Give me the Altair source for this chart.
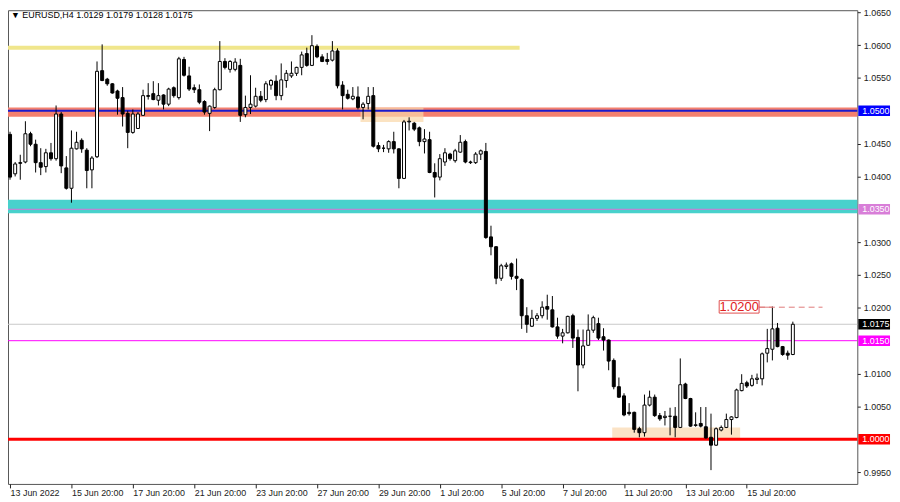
import altair as alt
import pandas as pd

# ---------------- data (EURUSD H4) ----------------
opens = [1.0464,1.0404,1.0421,1.0422,1.0465,1.0449,1.0421,1.0415,1.0436,1.0427,
         1.0495,1.0413,1.0382,1.0442,1.0455,1.0440,1.0410,1.0430,1.0561,1.0548,
         1.0541,1.0530,1.0520,1.0496,1.0467,1.0473,1.0493,1.0523,1.0526,1.0516,
         1.0524,1.0510,1.0535,1.0520,1.0578,1.0553,1.0535,1.0532,1.0514,1.0496,
         1.0505,1.0532,1.0575,1.0563,1.0563,1.0569,1.0494,1.0505,1.0507,1.0522,
         1.0517,1.0539,1.0545,1.0523,1.0546,1.0553,1.0557,1.0566,1.0587,1.0569,
         1.0598,1.0582,1.0578,1.0577,1.0591,1.0539,1.0525,1.0518,1.0521,1.0505,
         1.0511,1.0523,1.0447,1.0443,1.0442,1.0453,1.0442,1.0397,1.0483,1.0481,
         1.0474,1.0453,1.0456,1.0406,1.0399,1.0422,1.0434,1.0424,1.0437,1.0453,
         1.0421,1.0421,1.0434,1.0438,1.0308,1.0293,1.0245,1.0263,1.0267,1.0248,
         1.0243,1.0188,1.0172,1.0184,1.0188,1.0202,1.0197,1.0171,1.0157,1.0162,
         1.0188,1.0155,1.0113,1.0143,1.0166,1.0176,1.0156,1.0151,1.0120,1.0080,
         1.0066,1.0041,1.0041,1.0016,1.0010,1.0052,1.0064,1.0036,1.0033,1.0035,
         1.0035,1.0018,1.0084,1.0062,1.0021,1.0024,1.0019,1.0003,0.9991,1.0014,
         1.0018,1.0030,1.0033,1.0074,1.0086,1.0082,1.0091,1.0092,1.0131,1.0137,
         1.0169,1.0141,1.0131,1.0129]
highs = [1.0468,1.0422,1.0433,1.0484,1.0468,1.0456,1.0443,1.0442,1.0451,1.0508,
         1.0498,1.0431,1.0470,1.0468,1.0458,1.0443,1.0431,1.0575,1.0601,1.0550,
         1.0542,1.0532,1.0536,1.0500,1.0502,1.0498,1.0532,1.0542,1.0545,1.0542,
         1.0525,1.0535,1.0537,1.0582,1.0582,1.0567,1.0540,1.0540,1.0516,1.0508,
         1.0535,1.0606,1.0580,1.0577,1.0580,1.0579,1.0523,1.0554,1.0535,1.0530,
         1.0545,1.0548,1.0554,1.0572,1.0562,1.0575,1.0567,1.0590,1.0596,1.0615,
         1.0601,1.0586,1.0588,1.0606,1.0595,1.0545,1.0532,1.0536,1.0537,1.0513,
         1.0536,1.0536,1.0452,1.0448,1.0455,1.0468,1.0443,1.0486,1.0490,1.0483,
         1.0476,1.0472,1.0468,1.0420,1.0434,1.0443,1.0436,1.0442,1.0463,1.0456,
         1.0424,1.0437,1.0441,1.0451,1.0325,1.0294,1.0267,1.0269,1.0269,1.0275,
         1.0245,1.0201,1.0197,1.0192,1.0210,1.0220,1.0218,1.0185,1.0168,1.0188,
         1.0191,1.0167,1.0167,1.0190,1.0188,1.0185,1.0169,1.0152,1.0123,1.0094,
         1.0070,1.0055,1.0042,1.0019,1.0068,1.0074,1.0068,1.0040,1.0043,1.0048,
         1.0049,1.0123,1.0086,1.0063,1.0041,1.0049,1.0049,1.0039,1.0018,1.0021,
         1.0039,1.0035,1.0077,1.0099,1.0089,1.0098,1.0100,1.0132,1.0168,1.0202,
         1.0177,1.0142,1.0135,1.0179]
lows = [1.0395,1.0400,1.0395,1.0420,1.0446,1.0406,1.0402,1.0406,1.0424,1.0424,
        1.0405,1.0380,1.0360,1.0441,1.0436,1.0382,1.0382,1.0428,1.0545,1.0538,
        1.0526,1.0494,1.0476,1.0443,1.0465,1.0473,1.0492,1.0517,1.0516,1.0508,
        1.0502,1.0507,1.0520,1.0517,1.0552,1.0530,1.0527,1.0510,1.0494,1.0469,
        1.0503,1.0531,1.0563,1.0558,1.0560,1.0483,1.0490,1.0495,1.0505,1.0513,
        1.0513,1.0532,1.0516,1.0516,1.0535,1.0550,1.0553,1.0554,1.0567,1.0568,
        1.0580,1.0574,1.0570,1.0575,1.0534,1.0502,1.0517,1.0516,1.0502,1.0487,
        1.0502,1.0444,1.0437,1.0437,1.0436,1.0435,1.0382,1.0396,1.0470,1.0469,
        1.0446,1.0435,1.0405,1.0368,1.0394,1.0416,1.0424,1.0421,1.0436,1.0420,
        1.0419,1.0419,1.0425,1.0305,1.0280,1.0236,1.0241,1.0259,1.0243,1.0227,
        1.0168,1.0162,1.0171,1.0180,1.0184,1.0182,1.0170,1.0153,1.0146,1.0161,
        1.0139,1.0073,1.0108,1.0142,1.0162,1.0151,1.0135,1.0105,1.0076,1.0063,
        1.0035,1.0036,1.0010,1.0003,1.0004,1.0050,1.0034,1.0028,1.0021,1.0006,
        1.0003,1.0017,1.0061,1.0019,1.0019,1.0018,1.0001,0.9953,0.9990,1.0012,
        1.0017,1.0007,1.0032,1.0073,1.0078,1.0080,1.0084,1.0082,1.0117,1.0120,
        1.0140,1.0127,1.0121,1.0128]
closes = [1.0399,1.0419,1.0420,1.0465,1.0449,1.0421,1.0414,1.0436,1.0427,1.0495,
          1.0416,1.0382,1.0443,1.0452,1.0442,1.0409,1.0428,1.0560,1.0546,1.0541,
          1.0527,1.0519,1.0495,1.0467,1.0495,1.0495,1.0523,1.0522,1.0517,1.0523,
          1.0510,1.0533,1.0523,1.0579,1.0554,1.0533,1.0532,1.0513,1.0498,1.0507,
          1.0532,1.0575,1.0566,1.0575,1.0574,1.0493,1.0505,1.0510,1.0522,1.0516,
          1.0541,1.0546,1.0523,1.0547,1.0557,1.0557,1.0566,1.0585,1.0569,1.0599,
          1.0582,1.0575,1.0575,1.0591,1.0538,1.0523,1.0519,1.0522,1.0505,1.0510,
          1.0522,1.0446,1.0442,1.0443,1.0453,1.0442,1.0397,1.0483,1.0484,1.0472,
          1.0453,1.0457,1.0406,1.0399,1.0427,1.0436,1.0427,1.0439,1.0452,1.0422,
          1.0422,1.0434,1.0439,1.0307,1.0293,1.0245,1.0264,1.0265,1.0248,1.0245,
          1.0188,1.0175,1.0184,1.0188,1.0201,1.0198,1.0171,1.0157,1.0162,1.0187,
          1.0154,1.0113,1.0142,1.0166,1.0185,1.0154,1.0151,1.0119,1.0080,1.0064,
          1.0037,1.0039,1.0015,1.0010,1.0052,1.0064,1.0036,1.0031,1.0035,1.0035,
          1.0018,1.0083,1.0062,1.0020,1.0022,1.0020,1.0002,0.9991,1.0016,1.0018,
          1.0030,1.0034,1.0075,1.0085,1.0081,1.0092,1.0093,1.0130,1.0138,1.0168,
          1.0141,1.0129,1.0128,1.0175]

x_label_idx = [0, 12, 24, 36, 48, 60, 72, 84, 96, 108, 120, 132, 144]
x_labels = ["13 Jun 2022", "15 Jun 20:00", "17 Jun 20:00", "21 Jun 20:00",
            "23 Jun 20:00", "27 Jun 20:00", "29 Jun 20:00", "1 Jul 20:00",
            "5 Jul 20:00", "7 Jul 20:00", "11 Jul 20:00", "13 Jul 20:00",
            "15 Jul 20:00"]

price_ticks = [0.9950, 1.0050, 1.0100, 1.0200, 1.0250, 1.0300, 1.0400,
               1.0450, 1.0550, 1.0600, 1.0650]

# horizontal zones
zone_x1 = [-0.4, -0.4, -0.4, 68.5, 117.7]
zone_x2 = [99.6, 165.6, 165.6, 80.8, 142.7]
zone_y1 = [1.0593, 1.0491, 1.03439, 1.0483, 1.0000]
zone_y2 = [1.0599, 1.0505, 1.03646, 1.0505, 1.0018]
zone_col = ["#F0E68C", "#F4806E", "#48D1CC", "#FAD7A8", "#FBE3C6"]
zone_op = [1.0, 1.0, 1.0, 0.7, 1.0]

# level lines
level_price = [1.0175, 1.0150, 1.0500, 1.0350, 1.0000]
level_col = ["#C8C8C8", "#FF00FF", "#1A1ACD", "#DA70D6", "#FF0000"]
level_w = [1, 1, 2, 1, 3]

# price tags on the right axis
tag_price = [1.0500, 1.0350, 1.0175, 1.0150, 1.0000]
tag_text = ["1.0500", "1.0350", "1.0175", "1.0150", "1.0000"]
tag_col = ["#0000FF", "#D87ED8", "#000000", "#FF00FF", "#FF0000"]

W, H = 857, 478
XMIN, XMAX = -0.4, 165.6
YMIN, YMAX = 0.9932, 1.0653
FONT = "Liberation Sans"

# ---------------- frames ----------------
df = pd.DataFrame({"i": list(range(len(opens))), "o": opens, "h": highs,
                   "l": lows, "c": closes})
df["fill"] = ["#FFFFFF" if c >= o else "#000000" for o, c in zip(opens, closes)]

zones = pd.DataFrame({"x1": zone_x1, "x2": zone_x2, "y1": zone_y1, "y2": zone_y2,
                      "col": zone_col, "op": zone_op})
levels = pd.DataFrame({"p": level_price, "col": level_col, "w": level_w,
                       "x1": XMIN, "x2": XMAX})
tags = pd.DataFrame({"p": tag_price, "t": tag_text, "col": tag_col})
tags["lo"] = tags["p"] - 0.0008
tags["hi"] = tags["p"] + 0.0008

xs = alt.Scale(domain=[XMIN, XMAX], nice=False, zero=False, padding=0)
ys = alt.Scale(domain=[YMIN, YMAX], nice=False, zero=False, padding=0)

label_expr = "[" + ",".join("'%s'" % s for s in x_labels) + "][round(datum.value/12)]"

x_axis = alt.Axis(values=x_label_idx, labelExpr=label_expr, title=None, grid=False,
                  domain=False, tickSize=4, tickColor="#222", labelAlign="left",
                  labelPadding=1, labelFontSize=9, labelColor="#222",
                  labelFont=FONT, labelFlush=False, labelOverlap=False)
y_axis = alt.Axis(orient="right", values=price_ticks, format=".4f", title=None,
                  grid=False, domain=False, tickSize=3, tickColor="#222",
                  labelPadding=3, labelFontSize=9, labelColor="#222",
                  labelFont=FONT, labelOverlap=False, labelFlush=False)

zone_layer = alt.Chart(zones).mark_rect().encode(
    x=alt.X("x1:Q", scale=xs, axis=x_axis), x2="x2:Q",
    y=alt.Y("y1:Q", scale=ys, axis=y_axis), y2="y2:Q",
    color=alt.Color("col:N", scale=None), opacity=alt.Opacity("op:Q", scale=None))

level_layer = alt.Chart(levels).mark_rule().encode(
    x=alt.X("x1:Q", scale=xs), x2="x2:Q",
    y=alt.Y("p:Q", scale=ys),
    color=alt.Color("col:N", scale=None),
    strokeWidth=alt.StrokeWidth("w:Q", scale=None))

wicks = alt.Chart(df).mark_rule(color="#000000", strokeWidth=1).encode(
    x=alt.X("i:Q", scale=xs), y=alt.Y("l:Q", scale=ys), y2="h:Q")

bodies = alt.Chart(df).mark_bar(size=3, stroke="#000000", strokeWidth=1).encode(
    x=alt.X("i:Q", scale=xs), y=alt.Y("o:Q", scale=ys), y2="c:Q",
    fill=alt.Fill("fill:N", scale=None))

# 1.0200 annotation
ann = pd.DataFrame({"x1": [138.6], "x2": [146.4], "y1": [1.0192], "y2": [1.0211],
                    "tx": [142.5], "ty": [1.02015], "t": ["1.0200"]})
ann_line = pd.DataFrame({"x1": [146.4], "x2": [158.8], "y": [1.0201]})
ann_solid = pd.DataFrame({"x1": [146.4], "x2": [149.0], "y": [1.0201]})

ann_dash = alt.Chart(ann_line).mark_rule(color="#E07878", strokeWidth=1,
                                         strokeDash=[6, 4]).encode(
    x=alt.X("x1:Q", scale=xs), x2="x2:Q", y=alt.Y("y:Q", scale=ys))
ann_sol = alt.Chart(ann_solid).mark_rule(color="#E07878", strokeWidth=1).encode(
    x=alt.X("x1:Q", scale=xs), x2="x2:Q", y=alt.Y("y:Q", scale=ys))
ann_box = alt.Chart(ann).mark_rect(fill="#FFFFFF", stroke="#E05050",
                                   strokeWidth=1).encode(
    x=alt.X("x1:Q", scale=xs), x2="x2:Q", y=alt.Y("y1:Q", scale=ys), y2="y2:Q")
ann_txt = alt.Chart(ann).mark_text(color="#E02020", fontSize=13, font=FONT,
                                   align="center", baseline="middle").encode(
    x=alt.X("tx:Q", scale=xs), y=alt.Y("ty:Q", scale=ys), text="t:N")

# axis price tags
tag_rect = alt.Chart(tags).mark_rect().encode(
    x=alt.value(W + 1), x2=alt.value(W + 33),
    y=alt.Y("lo:Q", scale=ys), y2="hi:Q",
    color=alt.Color("col:N", scale=None))
tag_txt = alt.Chart(tags).mark_text(color="#FFFFFF", fontSize=9, font=FONT,
                                    align="left", baseline="middle").encode(
    x=alt.value(W + 5), y=alt.Y("p:Q", scale=ys), text="t:N")

header = alt.Chart(pd.DataFrame({"t": ["\u25BC EURUSD,H4  1.0129 1.0179 1.0128 1.0175"]})).mark_text(
    align="left", baseline="middle", fontSize=9, font=FONT, color="#000000").encode(
    x=alt.value(3), y=alt.value(5), text="t:N")

chart = alt.layer(zone_layer, level_layer, wicks, bodies, ann_dash, ann_sol,
                  ann_box, ann_txt, tag_rect, tag_txt, header).properties(
    width=W, height=H,
    autosize=alt.AutoSizeParams(type="none"),
    padding={"left": 0, "top": 0, "right": 35, "bottom": 16},
    background="#FFFFFF"
).configure_view(stroke="#555555", strokeWidth=1)

chart.save("out.html", embed_options={"renderer": "svg", "actions": False})
